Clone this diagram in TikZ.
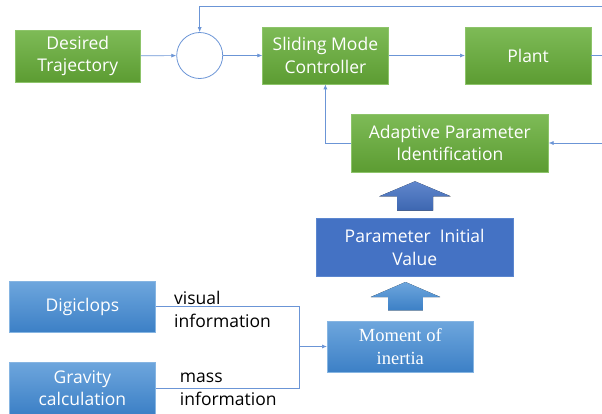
\documentclass[tikz,border=0pt]{standalone}
\usepackage{fontspec}
\setmainfont{Open Sans}
\newfontfamily\momentfont{Liberation Serif}
\usetikzlibrary{arrows.meta,positioning,calc}
\definecolor{CtrlGreenTop}{HTML}{7EBB57}
\definecolor{CtrlGreenBot}{HTML}{5C9C32}
\definecolor{CtrlGreenEdge}{HTML}{8DC46A}
\definecolor{SensBlueTop}{HTML}{6EA6DD}
\definecolor{SensBlueBot}{HTML}{3C80C6}
\definecolor{SensBlueEdge}{HTML}{86B5E2}
\definecolor{ParamBlue}{HTML}{4472C4}
\definecolor{ParamBlueEdge}{HTML}{5B86CF}
\definecolor{LinkBlue}{HTML}{6B95D6}

\begin{document}
\begin{tikzpicture}[x=1pt,y=-1pt,
    ctrlbox/.style={draw=CtrlGreenEdge, line width=0.6pt, top color=CtrlGreenTop, bottom color=CtrlGreenBot,
      text=white, align=center, inner sep=0pt, font=\fontsize{17.5}{22.5}\selectfont},
    sensbox/.style={draw=SensBlueEdge, line width=0.6pt, top color=SensBlueTop, bottom color=SensBlueBot,
      text=white, align=center, inner sep=0pt, minimum width=146pt, font=\fontsize{17.5}{22.5}\selectfont},
    link/.style={draw=LinkBlue, line width=0.7pt},
    tolink/.style={link, -{Latex[length=5pt,width=4pt]}},
    infolabel/.style={anchor=north west, align=left, inner sep=0pt, font=\fontsize{17.5}{23}\selectfont}]
    \useasboundingbox (0,0) rectangle (602,413);

    % Control loop
    \node[ctrlbox, minimum width=125.5pt, minimum height=52pt] (traj) at (77.8,56) {Desired\\Trajectory};
    \node[draw=LinkBlue, line width=0.8pt, circle, minimum size=46pt, inner sep=0pt] (sum) at (199.7,55.5) {};
    \node[ctrlbox, minimum width=125.6pt, minimum height=57pt] (smc) at (325.4,55.5) {Sliding Mode\\Controller};
    \node[ctrlbox, minimum width=125.6pt, minimum height=57pt] (plant) at (528.1,55.5) {Plant};
    \node[ctrlbox, minimum width=197pt, minimum height=58pt] (api) at (449.8,143) {Adaptive Parameter\\Identification};

    \coordinate (pout) at (602,55.5);
    \coordinate (ftop) at (602,6);
    \coordinate (fin) at (602,143);

    \draw[tolink] (traj) -- (sum);
    \draw[tolink] (sum) -- (smc);
    \draw[tolink] (smc) -- (plant);
    \draw[link] (plant) -- (pout);
    \draw[tolink] (ftop) -- (sum.north |- ftop) -- (sum.north);
    \draw[tolink] (fin) -- (api.east);
    \draw[tolink] (api.west) -| (smc.south);

    % Initial values
    \node[draw=ParamBlueEdge, line width=0.6pt, fill=ParamBlue, text=white, align=center, inner sep=0pt,
      minimum width=197.5pt, minimum height=58pt, font=\fontsize{17.5}{22.5}\selectfont] (piv) at (414.7,247.2) {Parameter~ Initial\\Value};
    \node[sensbox, minimum height=51pt, font=\momentfont\fontsize{18.5}{23}\selectfont] (moi) at (400.3,346.5) {Moment of\\inertia};

    % block arrows
    \fill[top color=ParamBlue!85!white, bottom color=ParamBlue!90!black]
      ($(piv.north |- api.south)+(0.3,9)$) -- ++(35.7,15) -- ++(-17.7,0) -- ++(0,14.3)
      -- ++(-36,0) -- ++(0,-14.3) -- ++(-17.7,0) -- cycle;
    \fill[top color=SensBlueTop, bottom color=SensBlueBot]
      ($(moi.north |- piv.south)+(5.2,5.5)$) -- ++(34.7,15) -- ++(-17.3,0) -- ++(0,13.3)
      -- ++(-34.8,0) -- ++(0,-13.3) -- ++(-17.3,0) -- cycle;

    % Sensors
    \node[sensbox, minimum height=51pt] (digi) at (82.4,306.5) {Digiclops};
    \node[sensbox, minimum height=52pt] (grav) at (82.4,388) {Gravity\\calculation};
    \coordinate (jn) at ($(moi.west)+(-27.6,0)$);
    \draw[link] (digi.east) -| (jn);
    \draw[link] (grav.east) -| (jn);
    \draw[tolink] (jn) -- (moi.west);
    \node[infolabel] (lblvis) at (174,290.5) {visual\\information};
    \node[infolabel] (lblmass) at (179.7,372.5) {mass\\information};
\end{tikzpicture}
\end{document}
